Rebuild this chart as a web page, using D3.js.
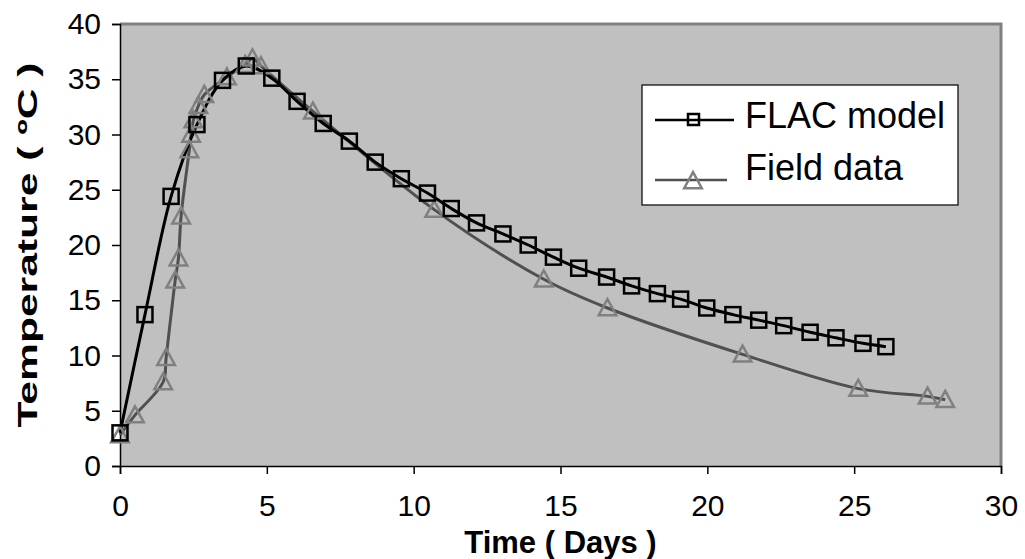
<!DOCTYPE html>
<html><head><meta charset="utf-8">
<script src="https://cdn.jsdelivr.net/npm/d3@7"></script>
<style>body{margin:0;background:#fff}svg{display:block}text{font-family:"Liberation Sans",Arial,sans-serif}</style>
</head><body><svg id="c" width="1025" height="559"></svg>
<script>
const flacDays = [0,0.85,1.74,2.62,3.49,4.3,5.17,6.03,6.92,7.81,8.69,9.58,10.47,11.28,12.14,13.04,13.9,14.76,15.62,16.57,17.42,18.3,19.09,19.98,20.87,21.75,22.6,23.5,24.38,25.3,26.08];
const flacTemp = [3,13.7,24.4,30.9,34.9,36.2,35.1,33.0,31.0,29.4,27.5,26.0,24.7,23.3,22.0,21.0,20.0,18.9,17.9,17.1,16.3,15.6,15.1,14.3,13.7,13.2,12.7,12.1,11.6,11.1,10.8];
const fieldDays = [0,0.51,1.47,1.57,1.88,1.99,2.08,2.36,2.42,2.5,2.67,2.87,3.64,4.26,4.51,4.8,6.57,10.7,14.43,16.6,21.2,25.14,27.5,28.1];
const fieldTemp = [2.8,4.6,7.6,9.8,16.8,18.8,22.6,28.6,30.0,31.3,32.6,33.6,35.2,36.3,36.9,36.2,32.1,23.2,16.9,14.3,10.1,7.0,6.3,6.0];
const xTicks = [0,5,10,15,20,25,30];
const yTicks = [0,5,10,15,20,25,30,35,40];
const seriesNames = ["FLAC model","Field data"];
const xTitle = "Time ( Days )";
const yTitle = "Temperature ( ºC )";

const svg = d3.select("#c");
const L=120,R=1001,T=24,B=466;
const x = d3.scaleLinear().domain([0,30]).range([L,R]);
const y = d3.scaleLinear().domain([0,40]).range([B,T]);

svg.append("rect").attr("x",L).attr("y",T).attr("width",R-L).attr("height",B-T).attr("fill","#c0c0c0");
svg.append("path").attr("d",`M${L},${T}H${R}V${B}`).attr("fill","none").attr("stroke","#808080").attr("stroke-width",3);

const ya = svg.append("g").attr("transform",`translate(${L},0)`).call(d3.axisLeft(y).tickValues(yTicks).tickSize(8).tickPadding(11));
const xa = svg.append("g").attr("transform",`translate(0,${B})`).call(d3.axisBottom(x).tickValues(xTicks).tickSize(8).tickPadding(21));
[ya,xa].forEach(a=>{a.select(".domain").attr("stroke","#000").attr("stroke-width",1.5);
  a.selectAll(".tick line").attr("stroke","#000").attr("stroke-width",1.5);
  a.selectAll("text").attr("font-size",30).attr("fill","#000").style("font-family","Liberation Sans, Arial");});

const fl = flacDays.map((d,i)=>[d,flacTemp[i]]);
const fd = fieldDays.map((d,i)=>[d,fieldTemp[i]]);
const line = d3.line().x(d=>x(d[0])).y(d=>y(d[1])).curve(d3.curveCatmullRom.alpha(0.5));

svg.append("path").attr("d",line(fd)).attr("fill","none").attr("stroke","#505050").attr("stroke-width",3);
svg.append("path").attr("d",line(fl)).attr("fill","none").attr("stroke","#000").attr("stroke-width",3);

const tri = s=>`M0,${-s*0.55}L${s*0.55},${s*0.45}L${-s*0.55},${s*0.45}Z`;
svg.append("g").selectAll("path").data(fd).join("path")
  .attr("transform",d=>`translate(${x(d[0])},${y(d[1])})`).attr("d",tri(16))
  .attr("fill","none").attr("stroke","#808080").attr("stroke-width",2.5);
svg.append("g").selectAll("rect").data(fl).join("rect")
  .attr("x",d=>x(d[0])-7.5).attr("y",d=>y(d[1])-7.5).attr("width",15).attr("height",15)
  .attr("fill","none").attr("stroke","#000").attr("stroke-width",2.5);

// legend
const lg = svg.append("g");
lg.append("rect").attr("x",642).attr("y",85).attr("width",316).attr("height",120).attr("fill","#fff").attr("stroke","#000").attr("stroke-width",1.2);
lg.append("line").attr("x1",655).attr("x2",734).attr("y1",120).attr("y2",120).attr("stroke","#000").attr("stroke-width",2.5);
lg.append("rect").attr("x",688).attr("y",114).attr("width",11).attr("height",11).attr("fill","none").attr("stroke","#000").attr("stroke-width",2.5);
lg.append("line").attr("x1",655).attr("x2",727).attr("y1",180).attr("y2",180).attr("stroke","#505050").attr("stroke-width",2.5);
lg.append("path").attr("transform","translate(693,181)").attr("d",tri(16)).attr("fill","none").attr("stroke","#808080").attr("stroke-width",2.5);
lg.selectAll("text").data(seriesNames).join("text").attr("x",745).attr("y",(d,i)=>128+i*52)
  .attr("font-size",36).attr("fill","#000").text(d=>d);

svg.append("text").attr("x",(L+R)/2).attr("y",553).attr("text-anchor","middle").attr("font-size",31).attr("font-weight","bold").text(xTitle);
svg.append("text").attr("transform",`translate(37,${(T+B)/2}) rotate(-90)`).attr("text-anchor","middle")
  .attr("font-size",28).attr("font-weight","bold").attr("textLength",365).attr("lengthAdjust","spacingAndGlyphs").text(yTitle);
</script></body></html>
